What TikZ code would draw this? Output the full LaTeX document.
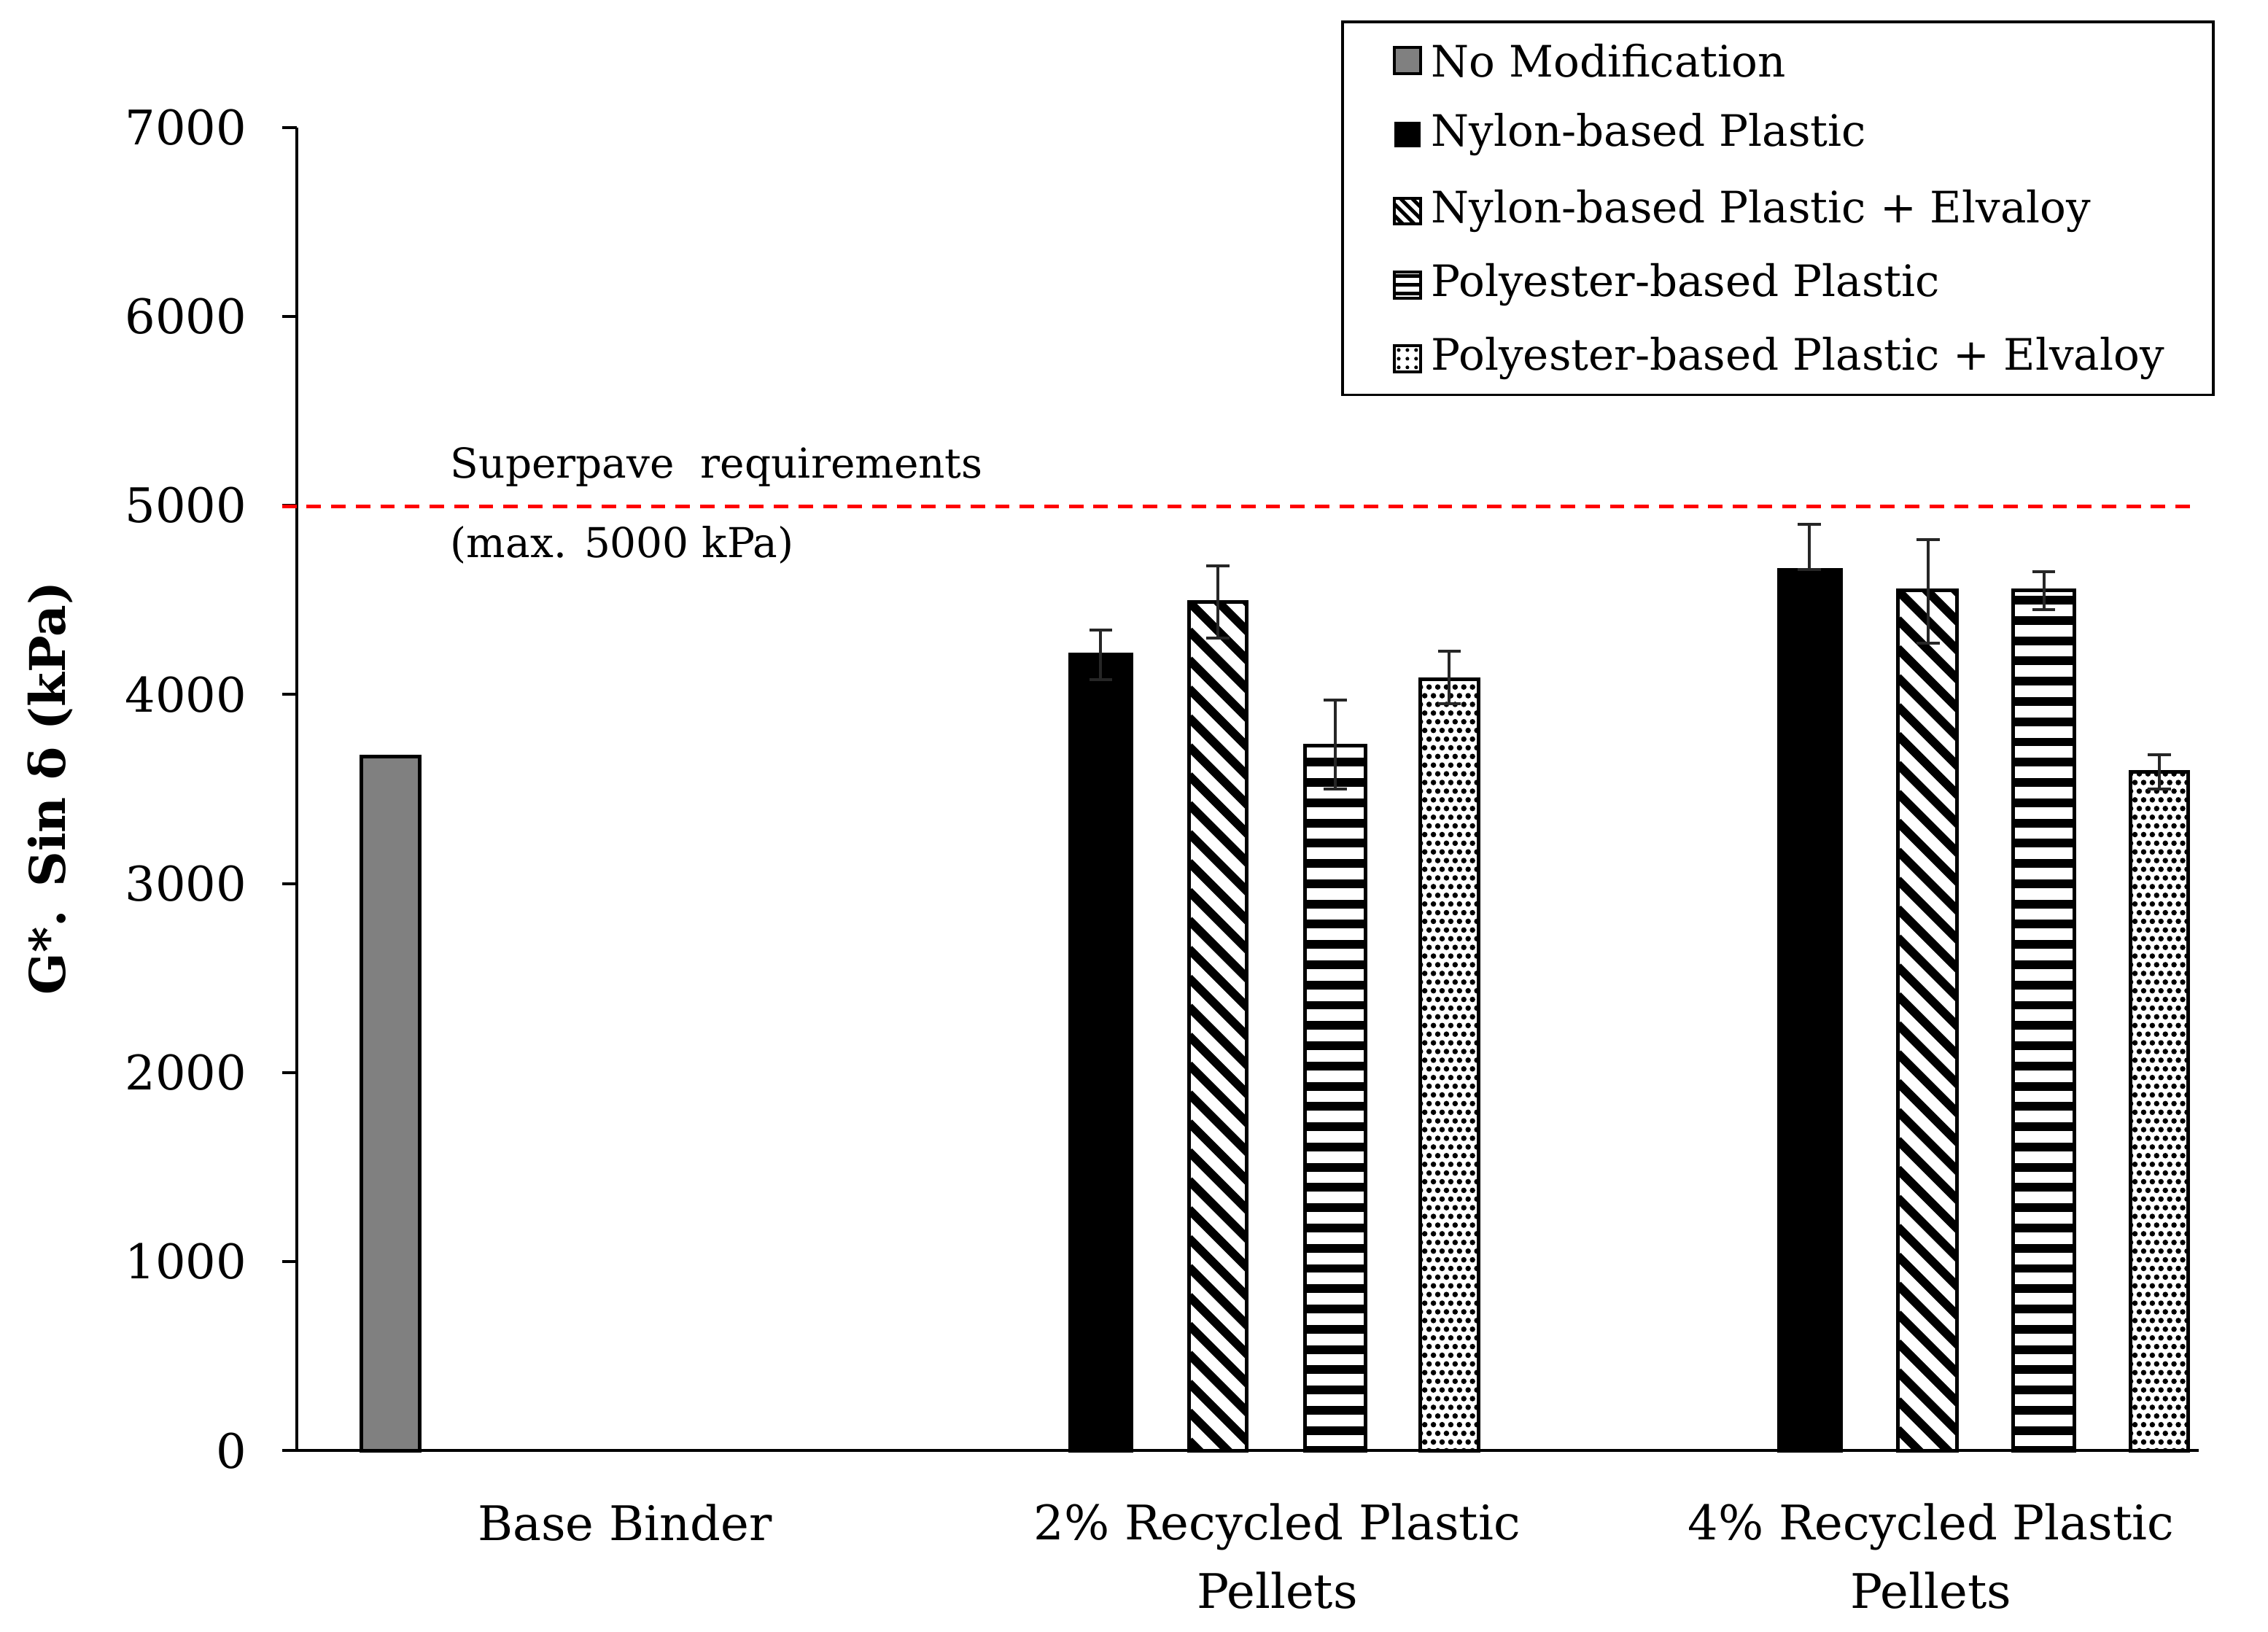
\documentclass[tikz,border=0pt]{standalone}
\usepackage{fontspec}
\setmainfont{DejaVu Serif}
\begin{document}
\begin{tikzpicture}[x=1pt,y=-1pt,
  frame/.style={draw=black,line width=2.5pt},
  err/.style={line width=2pt,draw=black!85},
  tick/.style={font=\fontsize{33}{37}\selectfont,anchor=east},
  cat/.style={font=\fontsize{33}{47}\selectfont,align=center},
  leg/.style={font=\fontsize{30}{34}\selectfont,anchor=west},
  note/.style={font=\fontsize{28.5}{32}\selectfont,anchor=west}]
\useasboundingbox (0,0) rectangle (1568,1128);
% axes
\draw[line width=2pt] (205,88) -- (205,1003);
\draw[line width=2pt] (195,1003) -- (1520,1003);
\foreach \v in {0,1000,...,7000}{
  \draw[line width=2pt] (195,{1003-0.1307*\v}) -- (205,{1003-0.1307*\v});
  \node[tick] (t\v) at (174,{1003-0.1307*\v}) {\v};
}
\node[rotate=90,font=\bfseries\fontsize{34}{38}\selectfont] (ylab) at (35,545) {G*. Sin δ (kPa)};
% threshold
\draw[red,line width=2.5pt,dash pattern=on 10pt off 7pt] (195,350) -- (1520,350);
\node[note] (n1) at (308,323) {Superpave~ requirements};
\node[note] (n2) at (308,377) {(max. 5000 kPa)};
% bar macros
\newcommand\solidbar[4]{\fill[#4] (#1,{1003-0.1307*#3}) rectangle (#2,1003);
  \draw[frame] (#1,{1003-0.1307*#3}) rectangle (#2,1003);}
\newcommand\diagbar[3]{\begin{scope}\clip (#1,{1003-0.1307*#3}) rectangle (#2,1003);
  \foreach \s in {-80,-60,...,1100}{\draw[line width=6pt] (#1,{1003-0.1307*#3+\s-60}) -- ++(100,100);}\end{scope}
  \draw[frame] (#1,{1003-0.1307*#3}) rectangle (#2,1003);}
\newcommand\horbar[3]{\begin{scope}\clip (#1,{1003-0.1307*#3}) rectangle (#2,1003);
  \foreach \s in {0,14,...,700}{\draw[line width=6pt] (#1,{1003-\s}) -- (#2,{1003-\s});}\end{scope}
  \draw[frame] (#1,{1003-0.1307*#3}) rectangle (#2,1003);}
\newcommand\dotbar[3]{\begin{scope}\clip (#1,{1003-0.1307*#3}) rectangle (#2,1003);
  \foreach \r in {0,1,...,95}{\foreach \c in {0,1,...,7}{
   \fill ({#1+\c*6+mod(\r,2)*3},{1003-\r*6}) circle (1.9pt);}}\end{scope}
  \draw[frame] (#1,{1003-0.1307*#3}) rectangle (#2,1003);}
\newcommand\ebar[3]{\draw[err] (#1,{1003-0.1307*#2}) -- (#1,{1003-0.1307*#3});
  \draw[err] (#1-8,{1003-0.1307*#2}) -- (#1+8,{1003-0.1307*#2});
  \draw[err] (#1-8,{1003-0.1307*#3}) -- (#1+8,{1003-0.1307*#3});}
% bars
\solidbar{250}{290}{3670}{black!50}
\solidbar{740}{782}{4210}{black}
\diagbar{822}{862}{4490}
\horbar{902}{944}{3730}
\dotbar{982}{1022}{4080}
\solidbar{1230}{1273}{4660}{black}
\diagbar{1312}{1353}{4550}
\horbar{1392}{1434}{4550}
\dotbar{1473}{1513}{3590}
% error bars
\ebar{761}{4340}{4080}
\ebar{842}{4680}{4300}
\ebar{923}{3970}{3500}
\ebar{1002}{4230}{3950}
\ebar{1251}{4900}{4660}
\ebar{1333}{4820}{4270}
\ebar{1413}{4650}{4450}
\ebar{1493}{3680}{3500}
% categories
\node[cat] (c1) at (432,1053) {Base Binder};
\node[cat] (c2) at (883,1076) {2\% Recycled Plastic\\Pellets};
\node[cat] (c3) at (1335,1076) {4\% Recycled Plastic\\Pellets};
% legend
\draw[line width=2pt,fill=white] (928,15) rectangle (1530,273);
\fill[black!50] (964,33) rectangle (982,51); \draw[line width=2pt] (964,33) rectangle (982,51);
\fill[black] (964,84) rectangle (982,102);
\begin{scope}\clip (964,137) rectangle (982,155);
\foreach \s in {-20,-12,...,20}{\draw[line width=2.5pt] (964,137+\s) -- ++(20,20);}\end{scope}
\draw[line width=2pt] (964,137) rectangle (982,155);
\foreach \s in {191,197,203}{\draw[line width=2.5pt] (964,\s) -- (982,\s);}
\draw[line width=2pt] (964,188) rectangle (982,206);
\foreach \a in {0,1,2}{\foreach \b in {0,1,2}{\fill (967+\a*6,242+\b*6) circle (1.3pt);}}
\draw[line width=2pt] (964,239) rectangle (982,257);
\node[leg] (l1) at (986,42) {No Modification};
\node[leg] (l2) at (986,93) {Nylon-based Plastic};
\node[leg] (l3) at (986,146) {Nylon-based Plastic + Elvaloy};
\node[leg] (l4) at (986,197) {Polyester-based Plastic};
\node[leg] (l5) at (986,248) {Polyester-based Plastic + Elvaloy};
\end{tikzpicture}
\end{document}
